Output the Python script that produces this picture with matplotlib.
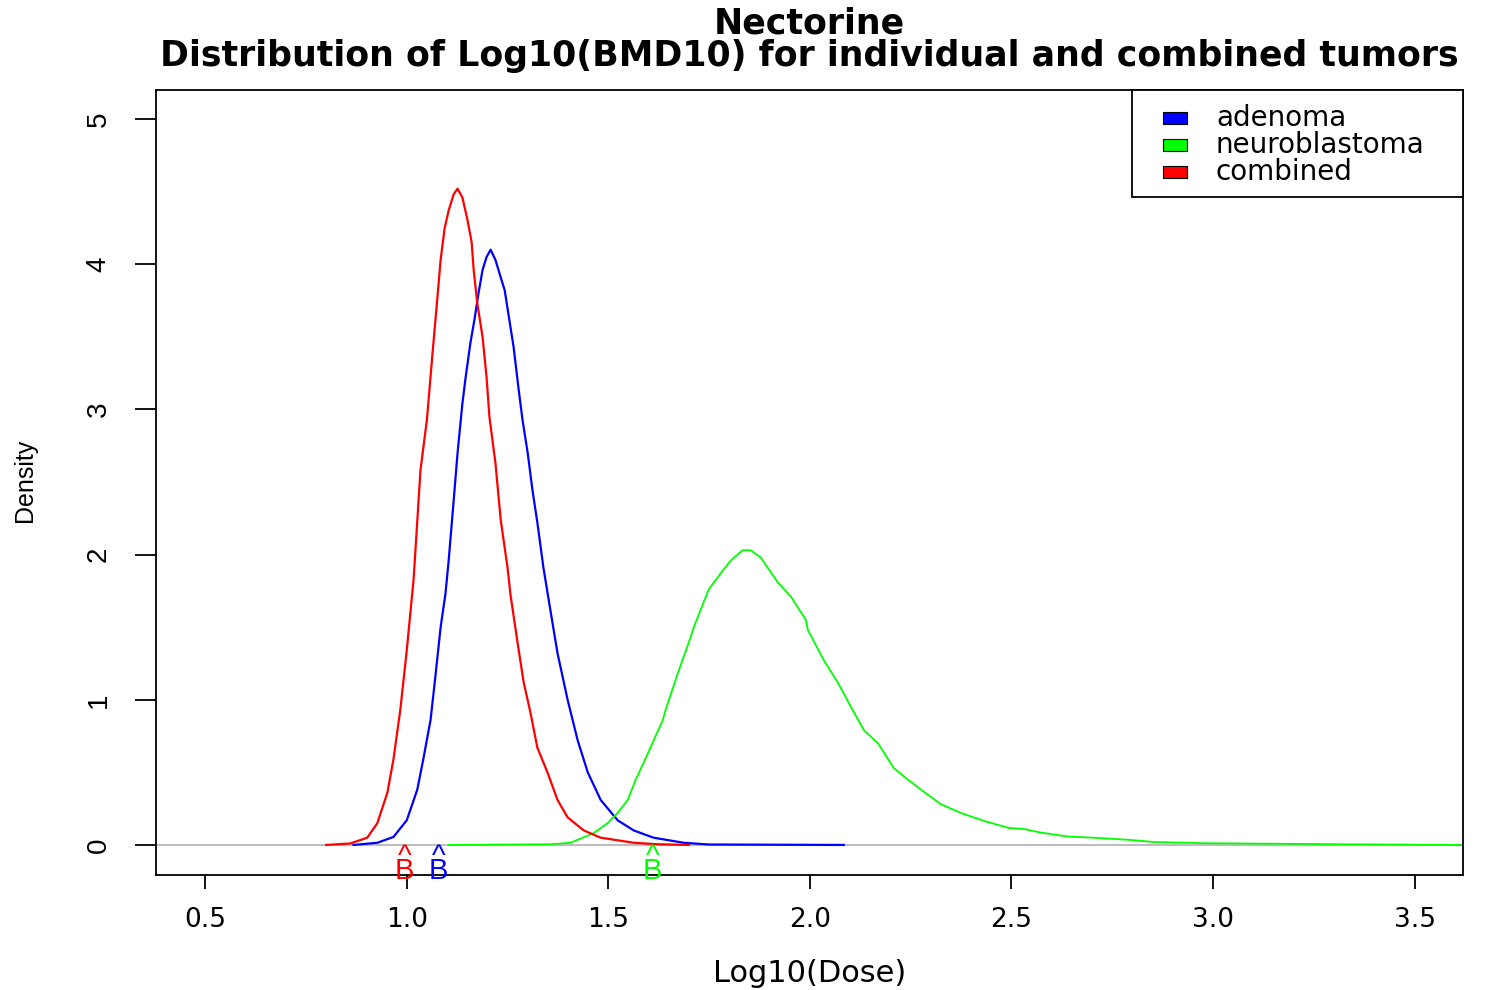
import matplotlib
matplotlib.use("Agg")
import matplotlib.pyplot as plt
from matplotlib.patches import Rectangle

# ---- data ----
series_names = ["adenoma", "neuroblastoma", "combined"]
series_colors = ["#0000ff", "#00ff00", "#ff0000"]

adenoma_x = [0.868, 0.927, 0.967, 1.0, 1.026, 1.041, 1.059, 1.071, 1.084, 1.096, 1.104, 1.116,
             1.126, 1.138, 1.146, 1.158, 1.168, 1.178, 1.188, 1.198, 1.208, 1.22, 1.233, 1.243,
             1.252, 1.265, 1.277, 1.287, 1.30, 1.312, 1.324, 1.339, 1.349, 1.374, 1.399, 1.424,
             1.449, 1.481, 1.523, 1.563, 1.612, 1.687, 1.75, 2.084]
adenoma_y = [0.0, 0.015, 0.055, 0.17, 0.38, 0.59, 0.86, 1.16, 1.50, 1.73, 1.96, 2.36,
             2.70, 3.04, 3.22, 3.46, 3.62, 3.80, 3.96, 4.05, 4.10, 4.03, 3.91, 3.82,
             3.66, 3.43, 3.15, 2.93, 2.70, 2.44, 2.22, 1.91, 1.74, 1.32, 1.0, 0.72,
             0.50, 0.31, 0.17, 0.10, 0.05, 0.015, 0.003, 0.0]

neuro_x = [1.104, 1.357, 1.406, 1.463, 1.498, 1.523, 1.548, 1.568, 1.598, 1.635, 1.642, 1.672,
           1.704, 1.712, 1.749, 1.784, 1.804, 1.833, 1.853, 1.878, 1.920, 1.953, 1.990, 1.995,
           2.035, 2.069, 2.102, 2.134, 2.169, 2.208, 2.243, 2.276, 2.325, 2.375, 2.432, 2.494,
           2.531, 2.573, 2.64, 2.715, 2.797, 2.854, 2.978, 3.30, 3.62]
neuro_y = [0.0, 0.005, 0.015, 0.08, 0.15, 0.22, 0.31, 0.45, 0.63, 0.86, 0.93, 1.18,
           1.43, 1.50, 1.76, 1.89, 1.96, 2.03, 2.03, 1.98, 1.81, 1.71, 1.55, 1.48,
           1.27, 1.12, 0.95, 0.79, 0.70, 0.53, 0.45, 0.38, 0.28, 0.22, 0.165, 0.117,
           0.11, 0.085, 0.058, 0.048, 0.034, 0.02, 0.012, 0.005, 0.0]

combined_x = [0.80, 0.86, 0.902, 0.927, 0.952, 0.967, 0.984, 1.0, 1.017, 1.034, 1.05, 1.064,
              1.076, 1.084, 1.094, 1.104, 1.116, 1.126, 1.138, 1.151, 1.161, 1.166, 1.175,
              1.188, 1.198, 1.205, 1.22, 1.233, 1.25, 1.257, 1.275, 1.29, 1.307, 1.324,
              1.349, 1.374, 1.399, 1.439, 1.481, 1.563, 1.62, 1.70]
combined_y = [0.0, 0.01, 0.05, 0.15, 0.36, 0.59, 0.93, 1.34, 1.83, 2.58, 2.93, 3.39,
              3.77, 4.03, 4.25, 4.37, 4.48, 4.52, 4.46, 4.30, 4.15, 3.96, 3.73,
              3.50, 3.22, 2.95, 2.63, 2.24, 1.91, 1.73, 1.39, 1.12, 0.91, 0.67,
              0.50, 0.31, 0.19, 0.10, 0.05, 0.015, 0.005, 0.0]

# BMD markers ("B") per series: adenoma, neuroblastoma, combined
bmd_marks = [1.079, 1.61, 0.994]

x_ticks = [0.5, 1.0, 1.5, 2.0, 2.5, 3.0, 3.5]
x_tick_labels = ["0.5", "1.0", "1.5", "2.0", "2.5", "3.0", "3.5"]
y_ticks = [0, 1, 2, 3, 4, 5]
y_tick_labels = ["0", "1", "2", "3", "4", "5"]

title_line1 = "Nectorine"
title_line2 = "Distribution of Log10(BMD10) for individual and combined tumors"
x_label = "Log10(Dose)"
y_label = "Density"

# ---- figure ----
W, H = 1495, 990
fig = plt.figure(figsize=(W / 100, H / 100), dpi=100)
ax = fig.add_axes([156 / W, 1 - 875 / H, (1463 - 156) / W, (875 - 90) / H])
ax.set_xlim(0.378, 3.62)
ax.set_ylim(-0.207, 5.2)

ax.axhline(0, color="#bebebe", lw=1.5, zorder=1)

xs = [adenoma_x, neuro_x, combined_x]
ys = [adenoma_y, neuro_y, combined_y]
lws = [1.6, 1.3, 1.6]
for x, y, c, lw in zip(xs, ys, series_colors, lws):
    ax.plot(x, y, color=c, lw=lw, zorder=2)

for xm, c in zip(bmd_marks, series_colors):
    ax.text(xm, 0.015, "^\nB", color=c, ha="center", va="top",
            fontsize=21, family="Liberation Sans", linespacing=0.38, zorder=3)

for s in ax.spines.values():
    s.set_linewidth(1.3)

ax.set_xticks(x_ticks)
ax.set_xticklabels(x_tick_labels, family="DejaVu Sans", fontsize=19)
ax.set_yticks(y_ticks)
ax.set_yticklabels(y_tick_labels, family="Liberation Sans", fontsize=20,
                   rotation=90, va="center")
ax.tick_params(axis="x", length=10, width=1.3, pad=13)
ax.tick_params(axis="y", length=15, width=1.3, pad=17)

# titles and axis labels
cx = ((156 + 1463) / 2) / W
fig.text(cx, 1 - 23 / H, title_line1, ha="center", va="center",
         fontsize=25, fontweight="bold", family="DejaVu Sans")
fig.text(cx, 1 - 56 / H, title_line2, ha="center", va="center",
         fontsize=25, fontweight="bold", family="DejaVu Sans")
fig.text(cx, 1 - 973 / H, x_label, ha="center", va="center",
         fontsize=22, family="DejaVu Sans")
fig.text(25 / W, 1 - 480 / H, y_label, ha="center", va="center",
         fontsize=18, family="Liberation Sans", rotation=90)

# legend box (R style)
lx0, lx1 = 0.7468, 1.0
ly0, ly1 = 0.8637, 1.0
ax.add_patch(Rectangle((lx0, ly0), lx1 - lx0, ly1 - ly0, transform=ax.transAxes,
                       facecolor="white", edgecolor="black", lw=1.3, zorder=5,
                       clip_on=False))
row_y = [0.9643, 0.9299, 0.8955]
for name, c, ry in zip(series_names, series_colors, row_y):
    ax.add_patch(Rectangle((0.7705, ry - 0.0077), 0.0184, 0.0153, transform=ax.transAxes,
                           facecolor=c, edgecolor="black", lw=0.8, zorder=6, clip_on=False))
    ax.text(0.811, ry, name, transform=ax.transAxes, ha="left", va="center",
            fontsize=20, family="DejaVu Sans", zorder=6)

fig.savefig("out.png", dpi=100)
